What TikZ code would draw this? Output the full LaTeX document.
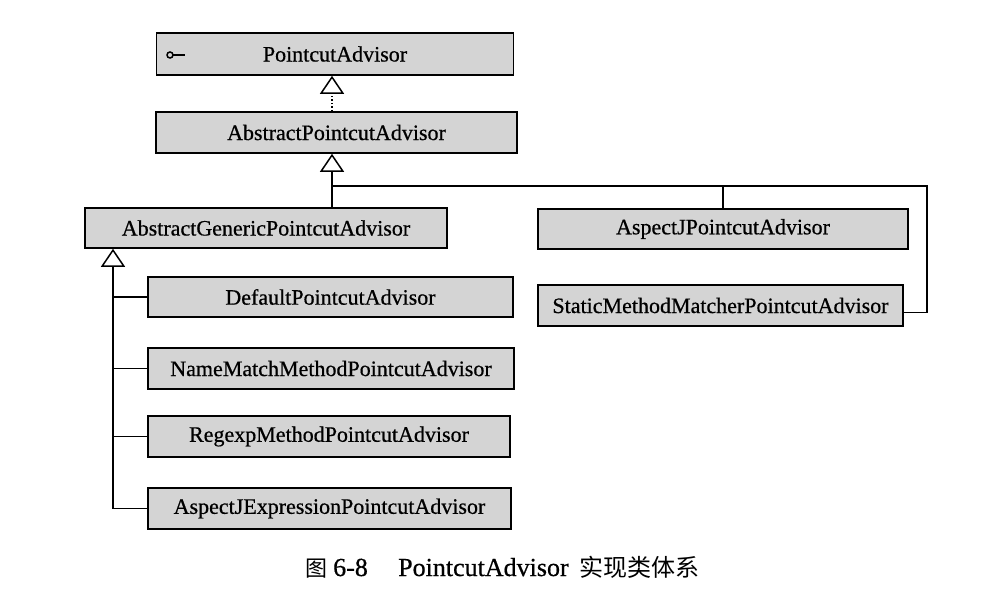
\documentclass[tikz,border=0pt]{standalone}
\usepackage{fontspec}
\setmainfont{Liberation Serif}
\newfontfamily\heavy{Liberation Serif}[FakeBold=0.6]
\newfontfamily\cjk{Noto Sans CJK SC}
\usetikzlibrary{arrows.meta}
\definecolor{boxfill}{HTML}{D4D4D4}
\tikzset{
  cls/.style={draw=black, line width=1.6pt, fill=boxfill, inner sep=0pt,
    font=\heavy\fontsize{22}{22}\selectfont},
  inh/.style={line width=1.5pt, -{Triangle[open, length=18pt, width=24pt, line width=1.5pt]}},
  real/.style={inh, dotted},
  lnk/.style={line width=1.5pt},
  captxt/.style={anchor=base west, inner sep=0pt, font=\heavy\fontsize{26}{26}\selectfont},
  capcjk/.style={anchor=base west, inner sep=0pt, font=\cjk\fontsize{24}{24}\selectfont}
}
\begin{document}
\begin{tikzpicture}[x=1pt, y=-1pt]
\useasboundingbox[fill=white] (0,0) rectangle (987,594);
\node[cls, minimum width=357pt, minimum height=42pt] (pa) at (335,54) {PointcutAdvisor};
\node[cls, minimum width=361pt, minimum height=41pt] (apa) at (336.5,132.5) {AbstractPointcutAdvisor};
\node[cls, minimum width=362pt, minimum height=40pt] (agpa) at (266,228) {AbstractGenericPointcutAdvisor};
\node[cls, minimum width=370pt, minimum height=40pt] (ajpa) at (723,229) {AspectJPointcutAdvisor};
\node[cls, minimum width=365pt, minimum height=41pt] (smm) at (720.5,305.5) {StaticMethodMatcherPointcutAdvisor};
\node[cls, minimum width=365pt, minimum height=40pt] (dpa) at (330.5,297) {DefaultPointcutAdvisor};
\node[cls, minimum width=366pt, minimum height=41pt] (nmm) at (331,368.5) {NameMatchMethodPointcutAdvisor};
\node[cls, minimum width=362pt, minimum height=41pt] (rmp) at (329,436.5) {RegexpMethodPointcutAdvisor};
\node[cls, minimum width=363pt, minimum height=41pt] (aje) at (329.5,508.5) {AspectJExpressionPointcutAdvisor};
% interface lollipop icon
\coordinate (ic) at (170,55);
\draw[lnk] (ic) circle (3pt);
\draw[lnk] ([xshift=3pt]ic) -- ++(12,0);
% realization
\coordinate (r1) at (332,0);
\draw[real] (apa.north -| r1) -- (pa.south -| r1);
% AbstractPointcutAdvisor subclasses
\coordinate (j1) at (332,186);
\coordinate (k1) at (927,186);
\draw[inh] (agpa.north -| j1) -- (apa.south -| j1);
\draw[lnk] (j1) -- (k1) |- ([yshift=-7pt]smm.east);
\draw[lnk] (ajpa.north |- j1) -- (ajpa.north);
% AbstractGenericPointcutAdvisor subclasses
\coordinate (j2) at (113,0);
\draw[inh] (aje.west -| j2) -- (agpa.south -| j2);
\draw[lnk] (dpa.west -| j2) -- (dpa.west);
\draw[lnk] (nmm.west -| j2) -- (nmm.west);
\draw[lnk] (rmp.west -| j2) -- (rmp.west);
\draw[lnk] (aje.west -| j2) -- (aje.west);
% caption
\node[capcjk, font=\cjk\fontsize{22}{22}\selectfont] (c1) at (305,576) {图};
\node[captxt] (c2) at (333,576) {6-8};
\node[captxt] (c3) at (398,576) {PointcutAdvisor};
\node[capcjk] (c4) at (579,576) {实现类体系};
\end{tikzpicture}
\end{document}
